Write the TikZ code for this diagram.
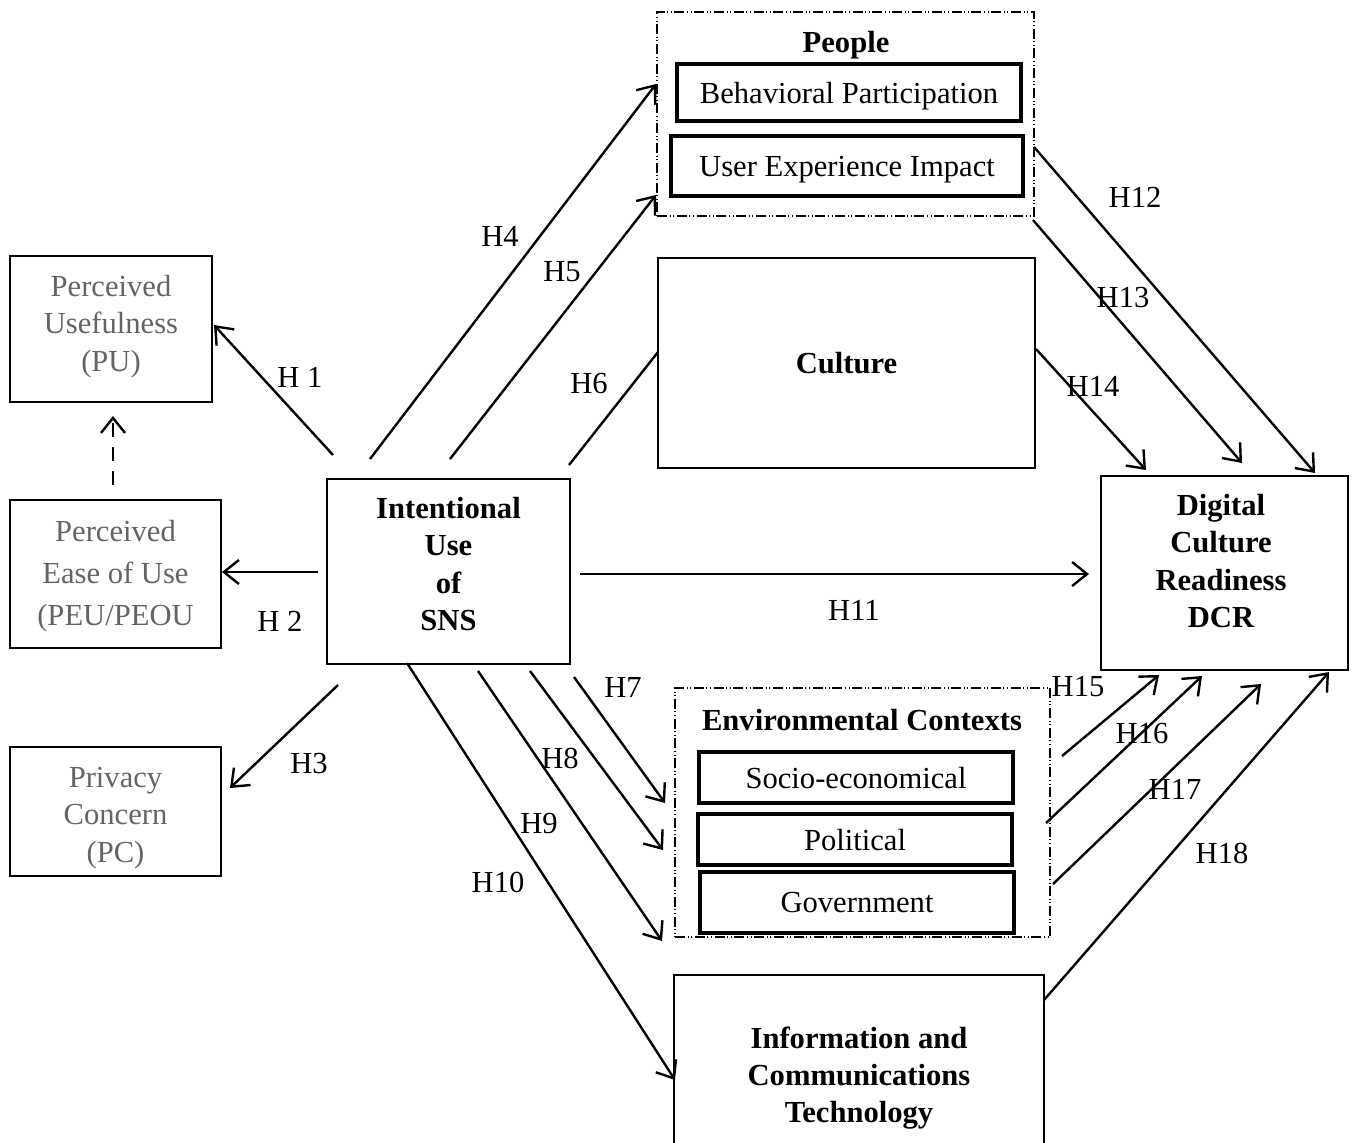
\documentclass[tikz,border=0pt]{standalone}
\usepackage{fontspec}
\setmainfont{Liberation Serif}
\usetikzlibrary{arrows.meta}
\definecolor{softgray}{RGB}{100,100,100}
\begin{document}
\begin{tikzpicture}[x=0.5pt,y=-0.5pt,
  every node/.style={font=\fontsize{15.3}{18.6}\selectfont, inner sep=0pt, outer sep=0pt},
  thinbox/.style={draw, line width=0.75pt, rectangle},
  heavybox/.style={draw, line width=1.2pt, rectangle},
  tallsubbox/.style={draw, line width=1.6pt, rectangle},
  subbox/.style={tallsubbox, text depth=0pt},
  group/.style={draw, line width=0.6pt, rectangle,
    dash pattern=on 5pt off 1.3pt on 0.5pt off 1.3pt on 0.5pt off 1.3pt},
  gtxt/.style={align=center, text=softgray},
  btxt/.style={align=center, font=\fontsize{15.3}{18.6}\selectfont\bfseries},
  hyp/.style={line width=1.2pt, -{Straight Barb[length=7.5pt,width=12pt,line width=1.2pt]}},
  plainline/.style={line width=1.2pt},
  dashedhyp/.style={line width=1.2pt, dash pattern=on 7pt off 5pt,
    -{Straight Barb[length=7.5pt,width=12pt,line width=1.2pt]}}
]
\useasboundingbox (0,0) rectangle (1352,1142);

% ---- left-hand constructs
\node[heavybox, minimum width=101pt, minimum height=73pt] (pu) at (111,329) {};
\node[gtxt] (put) at (111,326.5) {Perceived\\Usefulness\\(PU)};
\node[heavybox, minimum width=105.5pt, minimum height=74pt] (peu) at (115.5,574) {};
\node[gtxt, font=\fontsize{15.3}{21}\selectfont] (peut) at (115.5,576) {Perceived\\Ease of Use\\(PEU/PEOU};
\node[heavybox, minimum width=105.5pt, minimum height=64.5pt] (pc) at (115.5,811.5) {};
\node[gtxt] (pct) at (115.5,818) {Privacy\\Concern\\(PC)};

% ---- central construct
\node[thinbox, minimum width=121.5pt, minimum height=92.5pt] (ius) at (448.5,571.5) {};
\node[btxt] (iust) at (448.5,564) {Intentional\\Use\\of\\SNS};

% ---- people group
\node[group, minimum width=188.5pt, minimum height=102pt] (people) at (845.5,114) {};
\node[btxt] (peoplet) at (846,45) {People};
\node[subbox, minimum width=172pt, minimum height=28.5pt] (bp) at (849,92.5) {Behavioral Participation};
\node[subbox, minimum width=176pt, minimum height=30pt] (uei) at (847,166) {User Experience Impact};

% ---- culture
\node[thinbox, minimum width=188.5pt, minimum height=105pt, btxt] (culture) at (846.5,363) {Culture};

% ---- outcome
\node[thinbox, minimum width=123.5pt, minimum height=97pt] (dcr) at (1224.5,573) {};
\node[btxt] (dcrt) at (1221,561) {Digital\\Culture\\Readiness\\DCR};

% ---- environmental contexts group
\node[group, minimum width=187.5pt, minimum height=124.5pt] (env) at (862.5,812.5) {};
\node[btxt] (envt) at (862,720) {Environmental Contexts};
\node[subbox, minimum width=157pt, minimum height=25.5pt] (socio) at (856,777.5) {Socio-economical};
\node[subbox, minimum width=157pt, minimum height=25.5pt] (pol) at (855,839.5) {Political};
\node[tallsubbox, minimum width=157pt, minimum height=30.5pt] (gov) at (857,902.5) {Government};

% ---- ICT
\node[thinbox, minimum width=185pt, minimum height=88.5pt] (ict) at (859,1063.5) {};
\node[btxt] (ictt) at (859,1078) {Information and\\Communications\\Technology};

% ---- connector end points
\coordinate (a1) at (333,455);  \coordinate (b1) at (214,325);
\coordinate (a2) at (318,572);  \coordinate (b2) at (222,572);
\coordinate (a3) at (338,685);  \coordinate (b3) at (230,788);
\coordinate (a4) at (370,459);  \coordinate (b4) at (656,84);
\coordinate (a5) at (450,459);  \coordinate (b5) at (656,195);
\coordinate (a6) at (569,465);  \coordinate (b6) at (658,352);
\coordinate (a7) at (574,677);  \coordinate (b7) at (665,803);
\coordinate (a8) at (530,671);  \coordinate (b8) at (663,850);
\coordinate (a9) at (478,671);  \coordinate (b9) at (662,941);
\coordinate (a10) at (407,663); \coordinate (b10) at (675,1080);
\coordinate (a11) at (580,574); \coordinate (b11) at (1089,574);
\coordinate (a12) at (1034,147); \coordinate (b12) at (1315,473);
\coordinate (a13) at (1033,220); \coordinate (b13) at (1242,463);
\coordinate (a14) at (1036,349); \coordinate (b14) at (1146,470);
\coordinate (a15) at (1062,756); \coordinate (b15) at (1159,675);
\coordinate (a16) at (1046,823); \coordinate (b16) at (1202,676);
\coordinate (a17) at (1053,884); \coordinate (b17) at (1261,684);
\coordinate (a18) at (1044,1000); \coordinate (b18) at (1329,672);
\coordinate (pe-up) at (113,485); \coordinate (pu-dn) at (113,416);

% ---- hypotheses
\draw[dashedhyp] (pe-up) -- (pu-dn);
\draw[hyp] (a1) -- (b1);
\draw[hyp] (a2) -- (b2);
\draw[hyp] (a3) -- (b3);
\draw[hyp] (a4) -- (b4);
\draw[hyp] (a5) -- (b5);
\draw[plainline] (a6) -- (b6);
\draw[hyp] (a7) -- (b7);
\draw[hyp] (a8) -- (b8);
\draw[hyp] (a9) -- (b9);
\draw[hyp] (a10) -- (b10);
\draw[hyp] (a11) -- (b11);
\draw[hyp] (a12) -- (b12);
\draw[hyp] (a13) -- (b13);
\draw[hyp] (a14) -- (b14);
\draw[hyp] (a15) -- (b15);
\draw[hyp] (a16) -- (b16);
\draw[hyp] (a17) -- (b17);
\draw[hyp] (a18) -- (b18);

% ---- hypothesis labels
\node (l1) at (300,377) {H 1};
\node (l2) at (280,621) {H 2};
\node (l3) at (309,763) {H3};
\node (l4) at (500,236) {H4};
\node (l5) at (562,272) {H5};
\node (l6) at (589,384) {H6};
\node (l7) at (623,687) {H7};
\node (l8) at (560,758) {H8};
\node (l9) at (539,823) {H9};
\node (l10) at (498,882) {H10};
\node (l11) at (854,610) {H11};
\node (l12) at (1135,197) {H12};
\node (l13) at (1123,298) {H13};
\node (l14) at (1093,386) {H14};
\node (l15) at (1078,687) {H15};
\node (l16) at (1142,733) {H16};
\node (l17) at (1175,789) {H17};
\node (l18) at (1222,853) {H18};
\end{tikzpicture}
\end{document}
